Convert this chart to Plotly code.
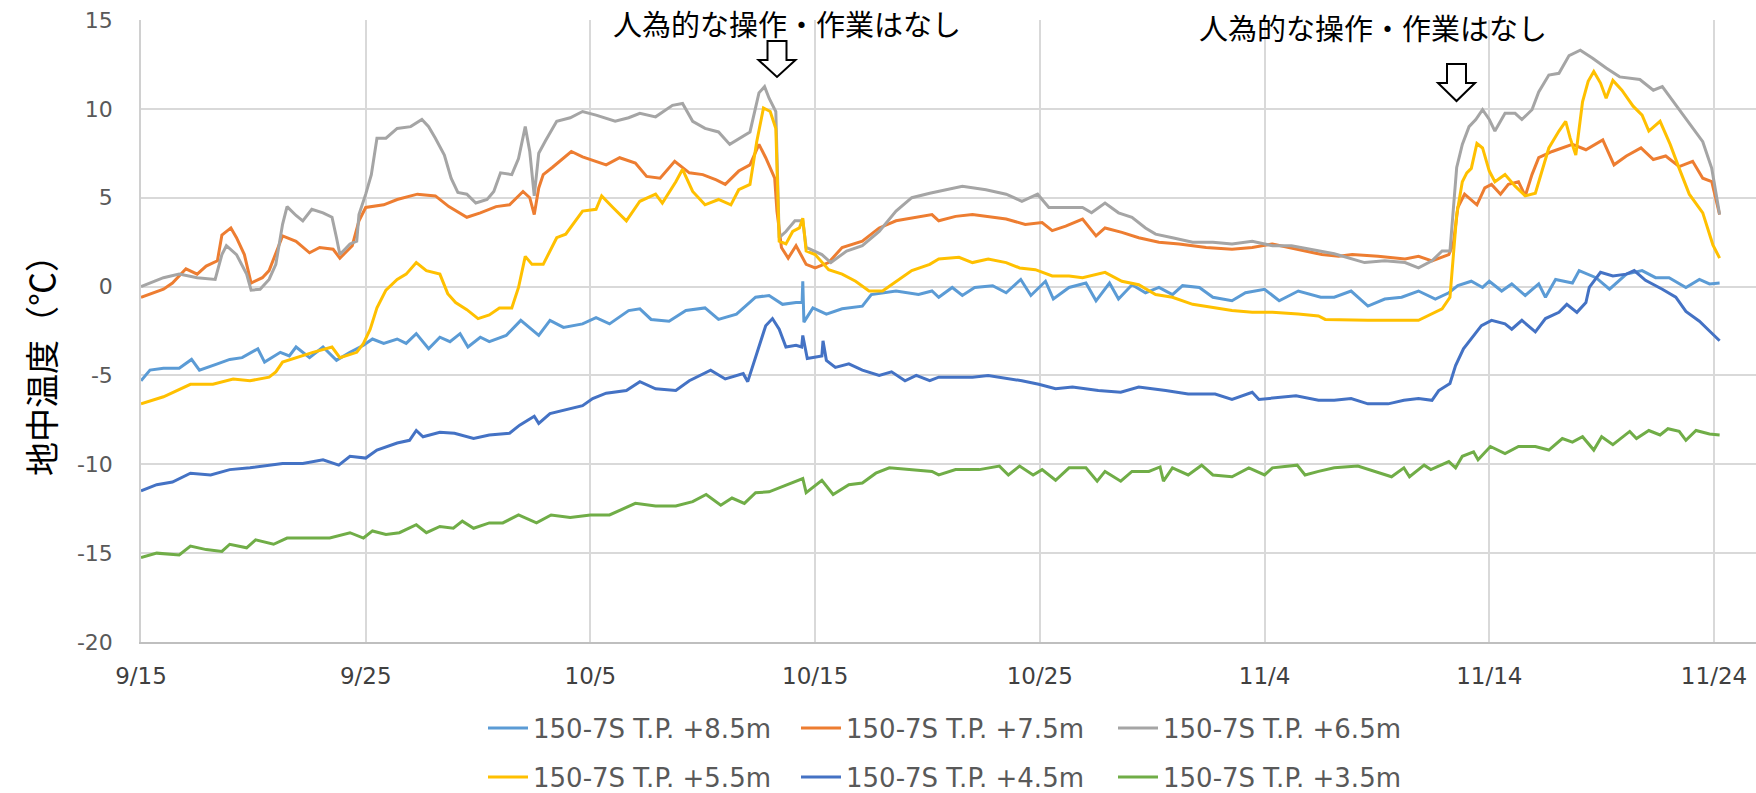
import pandas as pd
import plotly.graph_objects as go

BASE_DATE = "2022-09-15"
TICK_LABELS = ["9/15", "9/25", "10/5", "10/15", "10/25", "11/4", "11/14", "11/24"]
TICK_DAYS = [0, 10, 20, 30, 40, 50, 60, 70]
Y_TICKS = [-20, -15, -10, -5, 0, 5, 10, 15]
Y_TICK_LABELS = ["-20", "-15", "-10", "-5", "0", "5", "10", "15"]

NAMES = ["150-7S T.P. +8.5m", "150-7S T.P. +7.5m", "150-7S T.P. +6.5m",
         "150-7S T.P. +5.5m", "150-7S T.P. +4.5m", "150-7S T.P. +3.5m"]
COLORS = ["#5B9BD5", "#ED7D31", "#A5A5A5", "#FFC000", "#4472C4", "#70AD47"]

# elapsed days from 9/15, temperature (deg C)
d85 = [0, 0.4, 1, 1.7, 2.25, 2.6, 3.4, 3.95, 4.5, 5.2, 5.5, 6.2, 6.6, 6.9, 7.5, 8.1, 8.7, 9.3, 9.9, 10.3,
       10.8, 11.4, 11.8, 12.25, 12.8, 13.3, 13.75, 14.2, 14.55, 15.1, 15.5, 16.25, 16.9, 17.3, 17.7, 18.2,
       18.8, 19.65, 20.25, 20.85, 21.7, 22.2, 22.7, 23.5, 24.25, 25.1, 25.7, 26.5, 27.35, 27.95, 28.55,
       29.15, 29.42, 29.45, 29.5, 29.9, 30.5, 31.2, 32.1, 32.5, 33.0, 33.6, 34.6, 35.2, 35.5, 36.1, 36.55,
       37.1, 37.9, 38.5, 39.15, 39.6, 40.25, 40.6, 41.3, 42.05, 42.5, 43.1, 43.5, 44.1, 44.7, 45.3, 45.9,
       46.35, 47.1, 47.7, 48.55, 49.15, 50.0, 50.65, 51.5, 52.5, 53.1, 53.85, 54.6, 55.35, 56.1, 56.85,
       57.6, 58.2, 58.6, 59.2, 59.7, 60.0, 60.55, 61.0, 61.6, 62.2, 62.5, 62.95, 63.7, 64.0, 64.75, 65.35,
       66.1, 66.8, 67.4, 68.0, 68.75, 69.35, 69.8, 70.25]
v85 = [-5.3, -4.7, -4.6, -4.6, -4.1, -4.7, -4.35, -4.1, -4.0, -3.5, -4.25, -3.7, -3.9, -3.4, -4.0, -3.4, -4.15,
       -3.7, -3.3, -2.95, -3.2, -2.95, -3.2, -2.65, -3.5, -2.85, -3.1, -2.65, -3.4, -2.85, -3.1, -2.75, -1.9,
       -2.35, -2.75, -1.9, -2.3, -2.1, -1.75, -2.1, -1.35, -1.25, -1.85, -1.95, -1.35, -1.2, -1.85, -1.55,
       -0.6, -0.5, -1.0, -0.9, -0.9, 0.3, -2.0, -1.2, -1.55, -1.25, -1.1, -0.45, -0.35, -0.25, -0.45, -0.25,
       -0.6, -0.05, -0.5, -0.05, 0.05, -0.35, 0.4, -0.5, 0.3, -0.7, -0.05, 0.2, -0.8, 0.2, -0.7, 0.1, -0.35,
       -0.05, -0.45, 0.05, -0.05, -0.6, -0.8, -0.35, -0.15, -0.8, -0.25, -0.6, -0.6, -0.25, -1.1, -0.7, -0.6,
       -0.25, -0.7, -0.35, 0.05, 0.3, -0.05, 0.3, -0.25, 0.15, -0.5, 0.15, -0.6, 0.4, 0.2, 0.9, 0.5, -0.15,
       0.7, 0.9, 0.5, 0.5, -0.05, 0.4, 0.15, 0.2]

d75 = [0, 1, 1.4, 2, 2.5, 2.9, 3.4, 3.6, 4.0, 4.25, 4.6, 4.9, 5.4, 5.7, 6.1, 6.3, 6.9, 7.5, 7.95, 8.55, 8.85,
       9.4, 9.7, 10.0, 10.8, 11.4, 12.3, 13.1, 13.7, 14.5, 15.1, 15.8, 16.4, 17.0, 17.3, 17.5, 17.7, 17.9,
       18.3, 18.8, 19.15, 19.65, 20.25, 20.7, 21.3, 22.0, 22.5, 23.1, 23.75, 24.4, 25.0, 25.6, 26.0, 26.6,
       27.1, 27.5, 27.8, 28.2, 28.3, 28.5, 28.8, 29.15, 29.6, 30.0, 30.6, 31.2, 32.1, 32.85, 33.6, 34.3, 35.2,
       35.5, 36.25, 37.0, 37.7, 38.5, 39.35, 40.1, 40.55, 41.15, 41.9, 42.5, 42.9, 43.65, 44.4, 45.3, 46.2,
       47.4, 48.55, 49.45, 50.35, 51.5, 52.55, 53.3, 53.9, 55.05, 56.25, 56.85, 57.45, 58.2, 58.4, 58.6, 58.9,
       59.45, 59.8, 60.1, 60.5, 60.85, 61.3, 61.6, 61.9, 62.2, 62.8, 63.7, 64.3, 65.05, 65.55, 66.1, 66.75,
       67.3, 67.85, 68.45, 69.05, 69.5, 69.9, 70.25]
v75 = [-0.6, -0.15, 0.2, 1.0, 0.7, 1.15, 1.45, 2.9, 3.3, 2.75, 1.8, 0.2, 0.5, 0.9, 2.2, 2.85, 2.55, 1.9, 2.2,
       2.1, 1.6, 2.3, 3.7, 4.45, 4.6, 4.9, 5.2, 5.1, 4.5, 3.9, 4.15, 4.5, 4.6, 5.35, 5.0, 4.05, 5.55, 6.3, 6.7,
       7.25, 7.6, 7.3, 7.05, 6.85, 7.25, 6.95, 6.2, 6.1, 7.05, 6.4, 6.3, 6.0, 5.75, 6.5, 6.85, 8.0, 7.25, 6.1,
       4.25, 2.2, 1.6, 2.3, 1.25, 1.05, 1.35, 2.2, 2.55, 3.3, 3.7, 3.85, 4.05, 3.7, 3.95, 4.05, 3.95, 3.8, 3.5,
       3.6, 3.15, 3.4, 3.8, 2.85, 3.3, 3.05, 2.75, 2.5, 2.4, 2.2, 2.1, 2.2, 2.4, 2.1, 1.8, 1.7, 1.8, 1.7, 1.55,
       1.7, 1.45, 1.8, 2.4, 4.45, 5.2, 4.6, 5.55, 5.75, 5.2, 5.75, 5.9, 5.1, 6.3, 7.25, 7.6, 8.0, 7.7, 8.25,
       6.85, 7.35, 7.8, 7.15, 7.35, 6.75, 7.05, 6.1, 5.9, 4.05]

d65 = [0, 1, 1.7, 2.5, 3.3, 3.6, 3.8, 4.25, 4.7, 4.9, 5.3, 5.7, 6.0, 6.3, 6.5, 6.9, 7.2, 7.6, 8.1, 8.5, 8.7,
       8.85, 9.3, 9.6, 9.7, 10.0, 10.25, 10.5, 10.9, 11.4, 12.0, 12.5, 12.8, 13.1, 13.5, 13.8, 14.1, 14.5,
       14.9, 15.4, 15.7, 16.0, 16.5, 16.8, 17.1, 17.3, 17.5, 17.7, 18.0, 18.5, 19.1, 19.65, 20.25, 21.1,
       21.7, 22.2, 22.9, 23.65, 24.1, 24.55, 25.1, 25.7, 26.2, 26.8, 27.1, 27.5, 27.75, 27.95, 28.25, 28.4,
       28.7, 29.1, 29.45, 29.6, 30.3, 30.7, 31.4, 32.1, 32.85, 33.6, 34.3, 35.1, 35.5, 36.55, 37.6, 38.5,
       39.2, 39.9, 40.4, 41.15, 41.9, 42.3, 42.9, 43.5, 44.1, 44.7, 45.15, 45.9, 46.8, 47.7, 48.55, 49.45,
       50.35, 51.2, 52.1, 53.1, 54.45, 55.35, 56.25, 56.85, 57.45, 57.9, 58.25, 58.4, 58.55, 58.8, 59.1,
       59.4, 59.7, 60.0, 60.25, 60.7, 61.15, 61.45, 61.9, 62.2, 62.65, 63.1, 63.55, 64.05, 64.6, 65.2, 65.8,
       66.7, 67.3, 67.7, 68.3, 68.9, 69.5, 69.9, 70.25]
v65 = [0.0, 0.5, 0.7, 0.5, 0.4, 1.8, 2.3, 1.8, 0.7, -0.2, -0.15, 0.4, 1.25, 3.5, 4.5, 4.0, 3.7, 4.35, 4.15,
       3.9, 2.75, 1.8, 2.4, 2.55, 4.05, 5.2, 6.3, 8.35, 8.35, 8.9, 9.0, 9.4, 9.0, 8.35, 7.4, 6.1, 5.3, 5.2,
       4.7, 4.9, 5.35, 6.4, 6.3, 7.2, 9.0, 7.6, 5.1, 7.5, 8.2, 9.3, 9.5, 9.85, 9.65, 9.3, 9.5, 9.75, 9.55,
       10.2, 10.3, 9.3, 8.9, 8.7, 8.0, 8.45, 8.7, 10.9, 11.25, 10.6, 9.85, 2.75, 3.1, 3.7, 3.7, 2.2, 1.8,
       1.35, 2.0, 2.3, 3.1, 4.25, 5.0, 5.25, 5.35, 5.65, 5.45, 5.2, 4.8, 5.2, 4.45, 4.45, 4.45, 4.15, 4.7,
       4.15, 3.9, 3.3, 2.95, 2.75, 2.5, 2.5, 2.4, 2.55, 2.3, 2.3, 2.1, 1.85, 1.35, 1.45, 1.35, 1.05, 1.45,
       2.0, 2.0, 4.45, 6.7, 8.0, 9.0, 9.4, 9.95, 9.4, 8.75, 9.75, 9.75, 9.4, 9.95, 10.95, 11.9, 12.0, 13.0,
       13.3, 12.85, 12.3, 11.8, 11.65, 11.05, 11.25, 10.2, 9.2, 8.15, 6.65, 4.05]

d55 = [0, 1, 2.2, 3.2, 4.1, 4.85, 5.7, 6.0, 6.3, 7.1, 7.65, 8.5, 8.85, 9.6, 9.9, 10.2, 10.5, 10.9, 11.4, 11.8,
       12.25, 12.7, 13.3, 13.65, 14.0, 14.5, 15.0, 15.5, 15.95, 16.5, 16.8, 17.1, 17.4, 17.9, 18.5, 18.9,
       19.65, 20.25, 20.5, 21.0, 21.6, 22.2, 22.9, 23.2, 23.8, 24.1, 24.55, 25.1, 25.7, 26.25, 26.6, 27.1,
       27.4, 27.7, 28.0, 28.25, 28.4, 28.7, 29.0, 29.3, 29.45, 29.6, 30.0, 30.6, 31.2, 31.8, 32.4, 33.0,
       33.6, 34.3, 35.1, 35.5, 36.4, 37.0, 37.7, 38.5, 39.1, 39.8, 40.55, 41.3, 41.9, 42.9, 43.65, 44.4,
       45.15, 45.9, 46.8, 47.7, 48.55, 49.45, 50.35, 51.5, 52.4, 52.7, 54.6, 56.85, 57.9, 58.25, 58.4, 58.55,
       58.8, 59.0, 59.2, 59.45, 59.7, 60.0, 60.25, 60.7, 61.15, 61.6, 62.05, 62.3, 62.65, 63.1, 63.4, 63.6,
       63.85, 64.15, 64.4, 64.65, 64.95, 65.2, 65.5, 65.9, 66.4, 66.8, 67.1, 67.6, 68.05, 68.45, 68.9, 69.5,
       69.95, 70.25]
v55 = [-6.6, -6.2, -5.5, -5.5, -5.2, -5.3, -5.1, -4.8, -4.25, -3.9, -3.7, -3.4, -4.0, -3.7, -3.2, -2.4, -1.2,
       -0.2, 0.4, 0.7, 1.35, 0.9, 0.7, -0.4, -0.9, -1.3, -1.8, -1.6, -1.2, -1.2, -0.05, 1.7, 1.25, 1.25, 2.75,
       2.95, 4.25, 4.35, 5.1, 4.45, 3.7, 4.8, 5.2, 4.7, 5.9, 6.6, 5.35, 4.6, 4.9, 4.6, 5.45, 5.75, 8.15,
       10.05, 9.85, 8.9, 2.55, 2.4, 3.1, 3.3, 3.85, 2.0, 1.8, 0.95, 0.7, 0.3, -0.25, -0.25, 0.3, 0.9, 1.25,
       1.55, 1.65, 1.35, 1.55, 1.35, 1.05, 0.95, 0.6, 0.6, 0.5, 0.8, 0.3, 0.1, -0.45, -0.6, -1.0, -1.2, -1.35,
       -1.45, -1.45, -1.55, -1.65, -1.85, -1.9, -1.9, -1.25, -0.6, 1.6, 4.05, 5.9, 6.4, 6.65, 8.05, 7.8, 6.5,
       5.9, 6.3, 5.65, 5.1, 5.25, 6.3, 7.8, 8.75, 9.3, 8.35, 7.4, 10.4, 11.55, 12.1, 11.45, 10.6, 11.6, 11.05,
       10.15, 9.65, 8.75, 9.3, 8.0, 6.65, 5.2, 4.15, 2.35, 1.6]

d45 = [0, 0.7, 1.4, 2.2, 3.1, 3.95, 4.85, 5.7, 6.3, 7.2, 8.1, 8.8, 9.3, 10.0, 10.5, 11.4, 11.95, 12.25,
       12.55, 13.3, 13.95, 14.8, 15.5, 16.4, 16.85, 17.5, 17.7, 18.2, 18.8, 19.65, 20.1, 20.7, 21.6, 22.2,
       22.9, 23.8, 24.4, 25.35, 26.0, 26.8, 27.0, 27.2, 27.5, 27.8, 28.1, 28.4, 28.7, 29.15, 29.4, 29.45,
       29.65, 30.0, 30.3, 30.35, 30.5, 30.9, 31.5, 32.1, 32.85, 33.4, 34.0, 34.5, 35.1, 35.5, 37.0, 37.7,
       39.2, 39.95, 40.7, 41.45, 42.6, 43.6, 44.4, 45.6, 46.6, 47.8, 48.55, 49.45, 49.75, 51.4, 52.4, 53.1,
       53.85, 54.6, 55.5, 56.2, 56.85, 57.45, 57.75, 58.25, 58.5, 58.85, 59.2, 59.65, 60.1, 60.7, 61.0,
       61.45, 62.05, 62.5, 63.1, 63.45, 63.9, 64.3, 64.45, 64.95, 65.5, 66.1, 66.45, 66.95, 67.7, 68.3,
       68.75, 69.35, 69.8, 70.25]
v45 = [-11.5, -11.15, -11.0, -10.5, -10.6, -10.3, -10.2, -10.05, -9.95, -9.95, -9.75, -10.05, -9.55, -9.65,
       -9.2, -8.8, -8.65, -8.1, -8.45, -8.2, -8.25, -8.55, -8.35, -8.25, -7.8, -7.3, -7.7, -7.15, -6.95, -6.7,
       -6.3, -6.0, -5.85, -5.35, -5.75, -5.85, -5.3, -4.7, -5.2, -4.9, -5.35, -4.55, -3.3, -2.2, -1.8, -2.4,
       -3.4, -3.3, -3.4, -2.75, -4.05, -3.95, -3.9, -3.05, -4.15, -4.55, -4.35, -4.7, -5.0, -4.8, -5.3, -5.0,
       -5.3, -5.1, -5.1, -5.0, -5.3, -5.5, -5.75, -5.65, -5.85, -5.95, -5.65, -5.85, -6.05, -6.05, -6.35,
       -5.95, -6.35, -6.15, -6.4, -6.4, -6.3, -6.6, -6.6, -6.4, -6.3, -6.4, -5.85, -5.45, -4.45, -3.5, -2.95,
       -2.2, -1.9, -2.1, -2.4, -1.9, -2.55, -1.8, -1.45, -1.0, -1.45, -0.9, -0.05, 0.8, 0.6, 0.7, 0.9, 0.35,
       -0.15, -0.6, -1.4, -1.95, -2.5, -3.05]

d35 = [0, 0.7, 1.7, 2.2, 2.9, 3.6, 3.95, 4.7, 5.1, 5.9, 6.5, 7.35, 8.4, 9.3, 9.9, 10.3, 10.9, 11.5, 12.25,
       12.7, 13.3, 13.9, 14.3, 14.8, 15.5, 16.1, 16.8, 17.6, 18.25, 19.1, 20.0, 20.85, 22.0, 22.9, 23.8,
       24.55, 25.15, 25.8, 26.3, 26.85, 27.35, 27.95, 28.55, 29.45, 29.6, 30.3, 30.8, 31.5, 32.1, 32.7, 33.3,
       34.2, 35.2, 35.5, 36.25, 37.3, 38.2, 38.6, 39.1, 39.7, 40.1, 40.7, 41.3, 42.05, 42.55, 42.9, 43.6,
       44.1, 44.85, 45.35, 45.5, 45.9, 46.6, 47.2, 47.7, 48.55, 49.3, 50.0, 50.35, 51.45, 51.8, 52.4, 53.1,
       54.15, 54.9, 55.65, 56.2, 56.45, 57.1, 57.4, 58.2, 58.5, 58.8, 59.3, 59.5, 60.05, 60.7, 61.3, 62.05,
       62.65, 63.25, 63.7, 64.15, 64.65, 65.0, 65.5, 66.25, 66.55, 67.1, 67.6, 67.95, 68.45, 68.75, 69.2,
       69.8, 70.25]
v35 = [-15.25, -15.0, -15.1, -14.6, -14.8, -14.9, -14.5, -14.7, -14.25, -14.5, -14.15, -14.15, -14.15, -13.85,
       -14.15, -13.75, -13.95, -13.85, -13.4, -13.85, -13.5, -13.6, -13.2, -13.6, -13.3, -13.3, -12.85, -13.3,
       -12.85, -13.0, -12.85, -12.85, -12.2, -12.35, -12.35, -12.1, -11.7, -12.3, -11.9, -12.2, -11.6, -11.55,
       -11.25, -10.8, -11.6, -10.9, -11.7, -11.15, -11.05, -10.5, -10.2, -10.3, -10.4, -10.6, -10.3, -10.3,
       -10.1, -10.6, -10.1, -10.6, -10.3, -10.9, -10.2, -10.2, -10.95, -10.4, -10.95, -10.4, -10.4, -10.15,
       -10.95, -10.2, -10.6, -10.05, -10.6, -10.7, -10.2, -10.6, -10.2, -10.05, -10.6, -10.4, -10.2, -10.1,
       -10.4, -10.7, -10.2, -10.7, -10.05, -10.3, -9.85, -10.2, -9.55, -9.3, -9.75, -9.0, -9.4, -9.0, -9.0,
       -9.2, -8.55, -8.75, -8.45, -9.2, -8.45, -8.9, -8.15, -8.55, -8.1, -8.35, -8.0, -8.15, -8.65, -8.1,
       -8.3, -8.35]

ANNOT_TEXT = "人為的な操作・作業はなし"
Y_TITLE = "地中温度（℃）"

SERIES = [(d85, v85), (d75, v75), (d65, v65), (d55, v55), (d45, v45), (d35, v35)]

base = pd.Timestamp(BASE_DATE)


def to_dates(days):
    return base + pd.to_timedelta(days, unit="D")


# figure pixel geometry
W, H = 1756, 793
L, R, T, B = 141, 0, 20, 151
PW, PH = W - L - R, H - T - B


def px(xp):
    return (xp - L) / PW


def py(yp):
    return (H - B - yp) / PH


# legend item positions (line start x, row centre y) in pixels
LEG_X = [491, 804, 1121]
LEG_Y = [728, 777]

fig = go.Figure()
legend_layout = {}
for i, ((dd, vv), name, col) in enumerate(zip(SERIES, NAMES, COLORS)):
    lname = "legend" if i == 0 else f"legend{i + 1}"
    fig.add_trace(go.Scatter(
        x=to_dates(dd), y=vv, name=name, mode="lines",
        line=dict(color=col, width=3),
        legend=lname,
    ))
    legend_layout[lname] = dict(
        orientation="h", x=px(LEG_X[i % 3] - 8), xanchor="left",
        y=py(LEG_Y[i // 3]), yanchor="middle",
        font=dict(size=26, color="#595959", family="DejaVu Sans"),
        itemwidth=40, bgcolor="rgba(0,0,0,0)",
    )

tick_vals = to_dates(TICK_DAYS)
x_end = base + pd.Timedelta(days=70 + (W - 1714) / ((1714 - 141) / 70))

fig.update_layout(
    width=W, height=H,
    margin=dict(l=L, r=R, t=T, b=B, autoexpand=False),
    paper_bgcolor="white", plot_bgcolor="white",
    font=dict(family="DejaVu Sans", color="#595959"),
    xaxis=dict(
        type="date", range=[base, x_end],
        tickmode="array", tickvals=tick_vals, ticktext=TICK_LABELS,
        showgrid=True, gridcolor="#d9d9d9", gridwidth=1.5,
        showline=True, linecolor="#bfbfbf", linewidth=2,
        ticks="", tickfont=dict(size=23, color="#404040"),
        ticklabelstandoff=12, zeroline=False, automargin=False,
    ),
    yaxis=dict(
        range=[-20, 15], tickmode="array", tickvals=Y_TICKS, ticktext=Y_TICK_LABELS,
        showgrid=True, gridcolor="#d9d9d9", gridwidth=1.5,
        showline=True, linecolor="#d0d0d0", linewidth=1.5,
        zeroline=False, ticks="", tickfont=dict(size=22, color="#595959"),
        ticklabelstandoff=22, automargin=False,
    ),
    showlegend=True,
    **legend_layout,
)

# y-axis title
fig.add_annotation(
    text=Y_TITLE, xref="paper", yref="paper", x=px(40), y=py(357),
    textangle=-90, showarrow=False, xanchor="center", yanchor="middle",
    font=dict(family="Noto Sans CJK JP", size=34, color="#000000"),
)

# notes
for cx, cy in [(787, 23), (1373, 27)]:
    fig.add_annotation(
        text=ANNOT_TEXT, xref="paper", yref="paper", x=px(cx), y=py(cy),
        showarrow=False, xanchor="center", yanchor="middle",
        font=dict(family="Noto Sans CJK JP", size=29, color="#000000"),
    )


def arrow_path(cx, top, head, tip, shaft_half=9.5, head_half=18.5):
    pts = [(cx - shaft_half, top), (cx + shaft_half, top), (cx + shaft_half, head),
           (cx + head_half, head), (cx, tip), (cx - head_half, head), (cx - shaft_half, head)]
    s = "M " + " L ".join(f"{px(a):.5f},{py(b):.5f}" for a, b in pts) + " Z"
    return s


for cx, top, head, tip in [(777, 41, 60, 77), (1456.5, 64, 83, 101)]:
    fig.add_shape(type="path", xref="paper", yref="paper",
                  path=arrow_path(cx, top, head, tip),
                  line=dict(color="black", width=2), fillcolor="white")

fig.write_html("out.html")
